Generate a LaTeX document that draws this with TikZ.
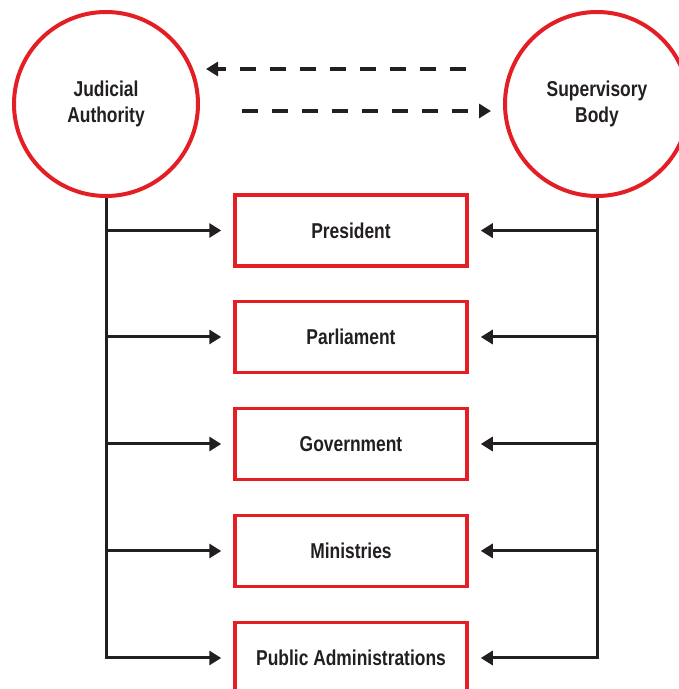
\documentclass[tikz,border=0pt]{standalone}
\usepackage{fontspec}
\setmainfont{Liberation Sans}[FakeStretch=0.81]
\usepackage{tikz}
\usetikzlibrary{shapes, arrows.meta}
\usepackage{xcolor}
\definecolor{bodyred}{RGB}{227,30,36}
\definecolor{inkline}{RGB}{35,31,32}

\begin{document}
\begin{tikzpicture}[x=1pt, y=1pt]
		\tikzstyle{authority} = [circle, draw=bodyred, line width=4pt, minimum size=184pt, inner sep=0pt, align=center, font=\fontsize{21.5pt}{26pt}\selectfont\bfseries, text=inkline]
		\tikzstyle{organ} = [rectangle, draw=bodyred, line width=3.5pt, minimum width=232pt, minimum height=71pt, font=\fontsize{21.5pt}{26pt}\selectfont\bfseries, text=inkline]
		\tikzstyle{connector} = [draw=inkline, line width=3pt, -{Triangle[length=12pt, width=14pt]}, shorten >=12pt]
		\tikzstyle{link} = [draw=inkline, line width=3.5pt, dash pattern=on 16pt off 14pt, -{Triangle[length=12pt, width=14pt]}]
		\useasboundingbox (0,0) rectangle (679,689);
		\node [authority] at (106,585) (judicial) {Judicial\\Authority};
		\node [authority] at (597,585) (superv) {Supervisory\\Body};
		\node [organ] at (351,458.5) (data1) {President};
		\node [organ] at (351,352) (data2) {Parliament};
		\node [organ] at (351,245) (data3) {Government};
		\node [organ] at (351,138) (data4) {Ministries};
		\node [organ] at (351,31) (data5) {Public Administrations};
		\path [link, shorten <=37pt, shorten >=6pt] ([yshift=35pt]superv.west) -- ([yshift=35pt]judicial.east);
		\path [link, shorten <=42pt, shorten >=12pt] ([yshift=-7pt]judicial.east) -- ([yshift=-7pt]superv.west);
		\path [connector] (judicial.south) |- (data5);
		\path [connector] (judicial |- data1) -- (data1);
		\path [connector] (judicial |- data2) -- (data2);
		\path [connector] (judicial |- data3) -- (data3);
		\path [connector] (judicial |- data4) -- (data4);
		\path [connector] (superv.south) |- (data5);
		\path [connector] (superv |- data1) -- (data1);
		\path [connector] (superv |- data2) -- (data2);
		\path [connector] (superv |- data3) -- (data3);
		\path [connector] (superv |- data4) -- (data4);
	\end{tikzpicture}
\end{document}
